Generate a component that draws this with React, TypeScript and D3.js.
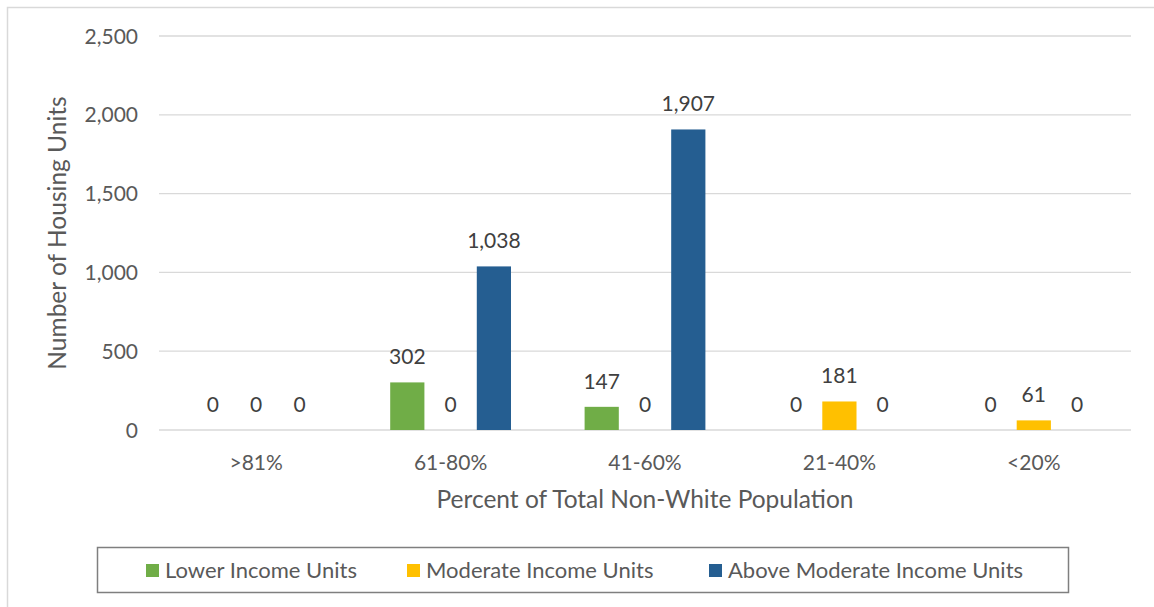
import React, { useEffect, useRef } from "react";
import * as d3 from "d3";

// data
const categories = [">81%", "61-80%", "41-60%", "21-40%", "<20%"];
const seriesNames = ["Lower Income Units", "Moderate Income Units", "Above Moderate Income Units"];
const lowerIncome = [0, 302, 147, 0, 0];
const moderateIncome = [0, 0, 0, 181, 61];
const aboveModerate = [0, 1038, 1907, 0, 0];
const yTicks = [0, 500, 1000, 1500, 2000, 2500];
const colors = ["#70AD47", "#FFC000", "#255E91"];

const App: React.FC = () => {
  const ref = useRef<HTMLDivElement>(null);

  useEffect(() => {
    const width = 1154;
    const height = 607;
    const font = "Lato, 'Open Sans', sans-serif";
    const textColor = "#595959";

    const svg = d3.select(ref.current)
      .selectAll("svg")
      .data([null])
      .join("svg")
      .attr("width", width)
      .attr("height", height)
      .style("position", "absolute")
      .style("left", "0px")
      .style("top", "0px")
      .style("font-family", font);

    svg.selectAll("*").remove();

    svg.append("rect").attr("width", width).attr("height", height).attr("fill", "#fff");

    // outer chart frame (only top and left visible)
    svg.append("path")
      .attr("d", `M7.5,${height} V7.5 H${width}`)
      .attr("fill", "none")
      .attr("stroke", "#d9d9d9")
      .attr("stroke-width", 1.5);

    const left = 159, right = 1131, top = 36, bottom = 430;

    const y = d3.scaleLinear().domain([0, 2500]).range([bottom, top]);
    const x0 = d3.scaleBand().domain(categories).range([left, right]);
    const x1 = d3.scaleBand()
      .domain(seriesNames)
      .range([0, x0.bandwidth()])
      .paddingInner(0.21)
      .paddingOuter(0.85);

    // gridlines
    svg.append("g")
      .selectAll("line")
      .data(yTicks)
      .join("line")
      .attr("x1", left)
      .attr("x2", right)
      .attr("y1", d => y(d))
      .attr("y2", d => y(d))
      .attr("stroke", "#d9d9d9")
      .attr("stroke-width", 1.3);

    // y tick labels
    svg.append("g")
      .selectAll("text")
      .data(yTicks)
      .join("text")
      .attr("x", 138)
      .attr("y", d => y(d))
      .attr("dy", "0.36em")
      .attr("text-anchor", "end")
      .attr("font-size", 21)
      .attr("fill", textColor)
      .text(d => d3.format(",")(d));

    const series = [lowerIncome, moderateIncome, aboveModerate];

    const groups = svg.append("g")
      .selectAll("g")
      .data(categories)
      .join("g")
      .attr("transform", d => `translate(${x0(d)},0)`);

    const cells = groups.selectAll("g")
      .data((_, i) => seriesNames.map((s, k) => ({ s, k, v: series[k][i] })))
      .join("g");

    cells.append("rect")
      .attr("x", d => x1(d.s)!)
      .attr("width", x1.bandwidth())
      .attr("y", d => y(d.v))
      .attr("height", d => y(0) - y(d.v))
      .attr("fill", d => colors[d.k]);

    cells.append("text")
      .attr("x", d => x1(d.s)! + x1.bandwidth() / 2)
      .attr("y", d => y(d.v) - 18)
      .attr("text-anchor", "middle")
      .attr("font-size", 21)
      .attr("fill", "#404040")
      .text(d => d3.format(",")(d.v));

    // category labels
    svg.append("g")
      .selectAll("text")
      .data(categories)
      .join("text")
      .attr("x", d => x0(d)! + x0.bandwidth() / 2)
      .attr("y", 470)
      .attr("text-anchor", "middle")
      .attr("font-size", 21)
      .attr("fill", textColor)
      .text(d => d);

    // axis titles
    svg.append("text")
      .attr("x", (left + right) / 2)
      .attr("y", 508)
      .attr("text-anchor", "middle")
      .attr("font-size", 24.5)
      .attr("fill", textColor)
      .text("Percent of Total Non-White Population");

    svg.append("text")
      .attr("transform", `translate(66,${(top + bottom) / 2}) rotate(-90)`)
      .attr("text-anchor", "middle")
      .attr("font-size", 24.5)
      .attr("fill", textColor)
      .text("Number of Housing Units");

    // legend
    svg.append("rect")
      .attr("x", 97.5)
      .attr("y", 547.5)
      .attr("width", 971)
      .attr("height", 45)
      .attr("fill", "#fff")
      .attr("stroke", "#7f7f7f")
      .attr("stroke-width", 1.5);

    const legendX = [146, 407, 709];
    const items = svg.append("g")
      .selectAll("g")
      .data(seriesNames)
      .join("g")
      .attr("transform", (_, i) => `translate(${legendX[i]},570)`);

    items.append("rect")
      .attr("x", 0)
      .attr("y", -6)
      .attr("width", 13)
      .attr("height", 13)
      .attr("fill", (_, i) => colors[i]);

    items.append("text")
      .attr("x", 19)
      .attr("y", 0)
      .attr("dy", "0.36em")
      .attr("font-size", 22)
      .attr("fill", textColor)
      .text(d => d);
  }, []);

  return <div ref={ref} />;
};

export default App;
